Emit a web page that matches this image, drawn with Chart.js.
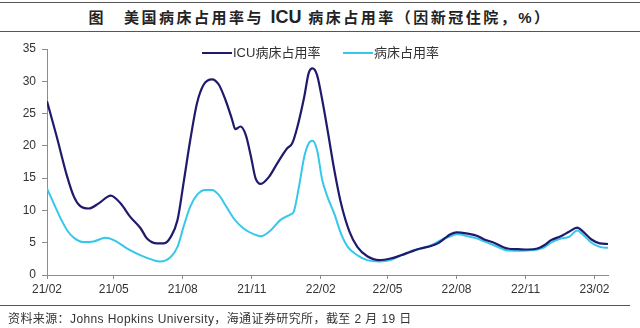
<!DOCTYPE html>
<html>
<head>
<meta charset="utf-8">
<script src="https://cdn.jsdelivr.net/npm/chart.js@4.4.1/dist/chart.umd.min.js"></script>
<style>
    body {
        margin: 0;
        width: 640px;
        height: 328px;
        background: #fff;
        position: relative;
        overflow: hidden;
        font-family: "Liberation Sans", "Noto Sans CJK SC", sans-serif;
    }
    #title {
        position: absolute;
        left: 0;
        top: 2px;
        width: 640px;
        height: 28px;
        border-top: 1.5px solid #555;
        border-bottom: 1.5px solid #555;
        text-align: center;
        font-weight: bold;
        font-size: 15px;
        letter-spacing: 2.5px;
        line-height: 28px;
        color: #222;
    }
    #title .icu {
        font-size: 18px;
        letter-spacing: 0;
    }
    #title .fig {
        margin-right: 18px;
    }
    #chartBox {
        position: absolute;
        left: 0;
        top: 0;
    }
    #rule {
        position: absolute;
        left: 0;
        top: 305px;
        width: 630px;
        border-top: 1.5px solid #555;
    }
    #source {
        position: absolute;
        left: 8px;
        top: 309px;
        font-size: 12px;
        letter-spacing: 0.4px;
        color: #333;
        white-space: nowrap;
    }
</style>
</head>
<body>
<div id="title"><span class="fig">图</span>美国病床占用率与 <span class="icu">ICU</span> 病床占用率（因新冠住院，%）</div>
<canvas id="chartBox" width="640" height="328"></canvas>
<div id="rule"></div>
<div id="source">资料来源：Johns Hopkins University，海通证券研究所，截至 2 月 19 日</div>

<script>
// days counted from 2021-02-01
const tickDays = [0, 89, 181, 273, 365, 454, 546, 638, 730];
const tickLabels = ['21/02', '21/05', '21/08', '21/11', '22/02', '22/05', '22/08', '22/11', '23/02'];

const icuDays = [0, 13, 27, 36, 44, 56, 69, 85, 98, 111, 125, 133, 147, 156, 165, 174, 182, 191, 200, 209, 220, 229, 238, 247, 251, 258, 265, 272, 278, 285, 296, 307, 320, 327, 334, 343, 349, 354, 360, 367, 374, 383, 392, 403, 414, 427, 443, 458, 472, 485, 498, 512, 521, 530, 538, 546, 561, 574, 583, 596, 614, 628, 641, 654, 663, 672, 685, 696, 707, 714, 726, 737, 748];
const icuValues = [26.9, 21.4, 15.2, 12.1, 10.7, 10.3, 11.1, 12.3, 11.1, 9.0, 7.2, 5.7, 4.9, 4.9, 5.9, 8.5, 14.2, 20.9, 26.6, 29.5, 30.3, 29.5, 27.1, 24.0, 22.6, 23.0, 21.7, 18.3, 15.0, 14.1, 15.2, 17.3, 19.6, 20.4, 23.0, 27.6, 31.3, 32.0, 31.0, 27.1, 22.5, 16.3, 11.1, 6.8, 4.3, 2.9, 2.3, 2.55, 3.05, 3.6, 4.1, 4.5, 4.9, 5.65, 6.3, 6.6, 6.4, 6.05, 5.5, 5.0, 4.1, 4.0, 3.95, 4.1, 4.6, 5.4, 6.0, 6.7, 7.35, 6.8, 5.5, 4.9, 4.8];

const bedDays = [0, 9, 18, 27, 36, 49, 62, 78, 89, 107, 125, 142, 151, 165, 174, 182, 191, 200, 211, 220, 229, 238, 249, 262, 276, 285, 298, 311, 325, 329, 336, 343, 349, 354, 360, 367, 374, 383, 392, 401, 414, 427, 443, 458, 472, 485, 498, 512, 525, 538, 547, 561, 574, 583, 596, 614, 628, 641, 654, 663, 672, 685, 696, 707, 714, 726, 737, 748];
const bedValues = [13.4, 11.1, 8.8, 6.9, 5.75, 5.1, 5.2, 5.75, 5.4, 4.1, 3.05, 2.3, 2.1, 2.8, 4.35, 7.45, 10.6, 12.4, 13.15, 13.15, 12.4, 10.8, 8.75, 7.2, 6.3, 6.0, 6.9, 8.5, 9.4, 9.8, 13.7, 18.3, 20.4, 20.8, 19.4, 14.7, 12.1, 9.5, 6.4, 4.35, 3.05, 2.3, 2.1, 2.3, 3.05, 3.7, 4.1, 4.6, 5.4, 6.0, 6.3, 6.0, 5.65, 5.2, 4.6, 3.8, 3.75, 3.8, 3.95, 4.3, 5.0, 5.65, 5.9, 6.9, 6.3, 5.0, 4.35, 4.2];

const toPoints = (days, values) => days.map((d, i) => ({ x: d, y: values[i] }));

const axisColor = '#8c8c8c';
const textColor = '#333';

// legend drawn inside the plot, just under the top edge
const legendSpots = [202, 343];
const insideLegend = {
    id: 'insideLegend',
    afterDraw(chart) {
        const ctx = chart.ctx;
        ctx.save();
        ctx.font = '13px "Liberation Sans", "Noto Sans CJK SC", sans-serif';
        ctx.textBaseline = 'middle';
        ctx.fillStyle = textColor;
        chart.data.datasets.forEach((ds, i) => {
            const x = legendSpots[i];
            const y = 53;
            ctx.strokeStyle = ds.borderColor;
            ctx.lineWidth = 2;
            ctx.beginPath();
            ctx.moveTo(x, y);
            ctx.lineTo(x + 30, y);
            ctx.stroke();
            ctx.fillText(ds.label, x + 31, y);
        });
        ctx.restore();
    }
};

const ctx = document.getElementById('chartBox').getContext('2d');
const occupancyChart = new Chart(ctx, {
    type: 'line',
    data: {
        datasets: [{
            label: 'ICU病床占用率',
            data: toPoints(icuDays, icuValues),
            borderColor: '#1f1a6c',
            borderWidth: 2.2,
            pointRadius: 0,
            fill: false,
            cubicInterpolationMode: 'monotone'
        }, {
            label: '病床占用率',
            data: toPoints(bedDays, bedValues),
            borderColor: '#35c8ea',
            borderWidth: 2,
            pointRadius: 0,
            fill: false,
            cubicInterpolationMode: 'monotone'
        }]
    },
    options: {
        responsive: false,
        animation: false,
        layout: {
            padding: { top: 49, left: 0, right: 32, bottom: 33 }
        },
        plugins: {
            legend: { display: false },
            tooltip: { enabled: false }
        },
        scales: {
            x: {
                type: 'linear',
                min: 0,
                max: 748,
                afterBuildTicks: scale => {
                    scale.ticks = tickDays.map(v => ({ value: v }));
                },
                afterFit: scale => {
                    scale.height = 20;
                },
                ticks: {
                    autoSkip: false,
                    maxRotation: 0,
                    padding: 3,
                    color: textColor,
                    font: { family: '"Liberation Sans", sans-serif', size: 12 },
                    callback: (value, index) => tickLabels[index]
                },
                grid: {
                    drawOnChartArea: false,
                    drawTicks: true,
                    tickLength: 4,
                    color: axisColor
                },
                border: { color: axisColor, width: 1 }
            },
            y: {
                min: 0,
                max: 35,
                afterFit: scale => {
                    scale.width = 47;
                },
                ticks: {
                    stepSize: 5,
                    padding: 6,
                    color: textColor,
                    font: { family: '"Liberation Sans", sans-serif', size: 12 }
                },
                grid: {
                    drawOnChartArea: false,
                    drawTicks: true,
                    tickLength: 5,
                    color: axisColor
                },
                border: { color: axisColor, width: 1 }
            }
        }
    },
    plugins: [insideLegend]
});
</script>
</body>
</html>
